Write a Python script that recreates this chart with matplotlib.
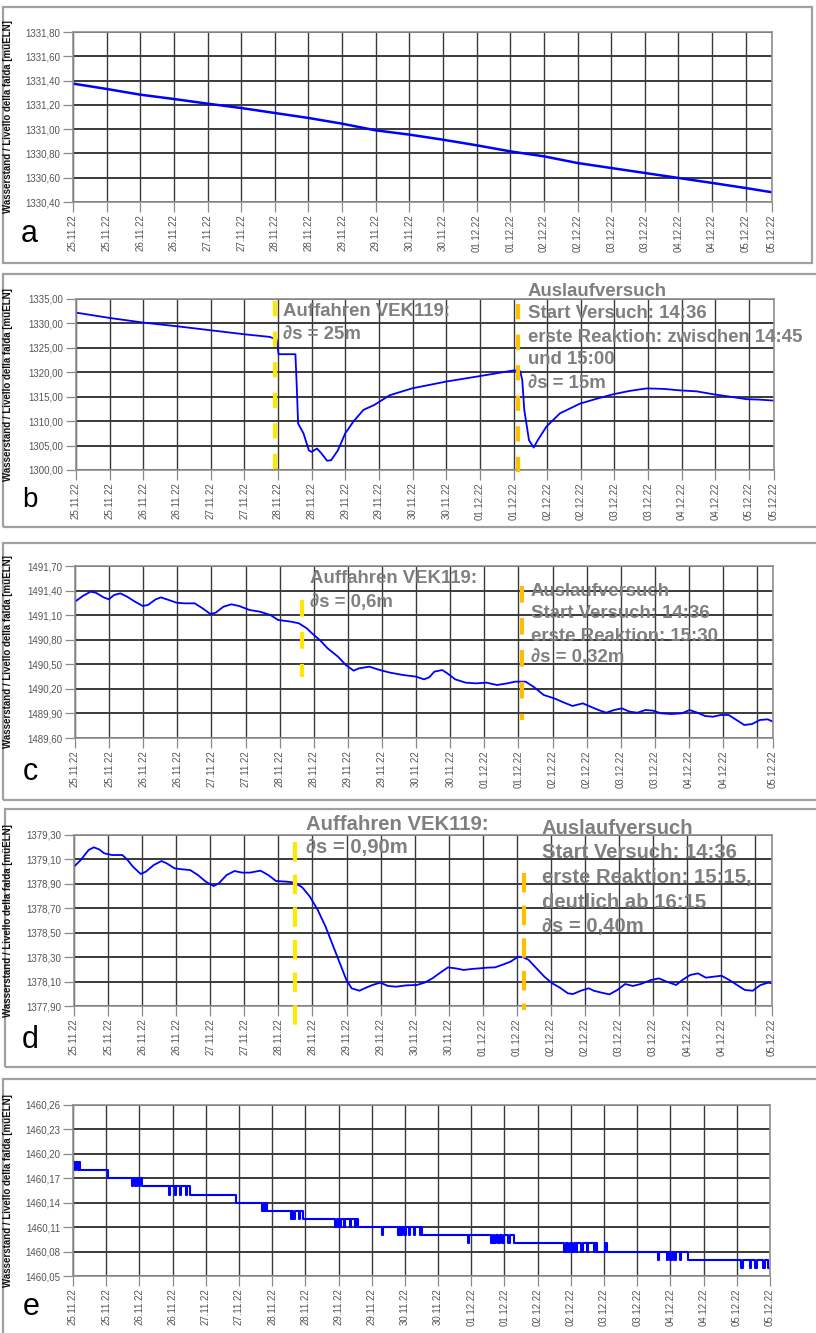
import matplotlib
matplotlib.use("Agg")
import matplotlib.pyplot as plt
from matplotlib.patches import Rectangle

plt.rcParams['font.family'] = ['Liberation Sans', 'DejaVu Sans']
plt.rcParams['lines.scale_dashes'] = False

# ---------------------------------------------------------------
# data (t = days since 25.11.22 00:00)
# ---------------------------------------------------------------
date_labels = ['25.11.22', '25.11.22', '26.11.22', '26.11.22', '27.11.22', '27.11.22',
               '28.11.22', '28.11.22', '29.11.22', '29.11.22', '30.11.22', '30.11.22',
               '01.12.22', '01.12.22', '02.12.22', '02.12.22', '03.12.22', '03.12.22',
               '04.12.22', '04.12.22', '05.12.22', '05.12.22']
ylabel_txt = 'Wasserstand / Livello della falda [müELN]'

# panel a
a_t = [0, 0.5, 1, 1.5, 2, 2.5, 3, 3.5, 4, 4.5, 5, 5.5, 6, 6.5, 7, 7.5, 8, 8.5, 9, 9.5, 10, 10.39]
a_v = [1331.375, 1331.331, 1331.284, 1331.248, 1331.210, 1331.174, 1331.133, 1331.092,
       1331.045, 1330.990, 1330.955, 1330.913, 1330.867, 1330.817, 1330.776, 1330.721,
       1330.680, 1330.639, 1330.598, 1330.557, 1330.515, 1330.480]
a_yticks = [1330.4, 1330.6, 1330.8, 1331.0, 1331.2, 1331.4, 1331.6, 1331.8]

# panel b
b_t = [0.0, 0.5, 1.0, 1.5, 2.0, 2.5, 2.88, 2.98, 3.01, 3.26, 3.28, 3.30, 3.38, 3.46, 3.50,
       3.58, 3.64, 3.73, 3.79, 3.89, 4.00, 4.12, 4.27, 4.43, 4.66, 4.99, 5.50, 5.99, 6.51,
       6.60, 6.63, 6.66, 6.73, 6.80, 6.86, 6.99, 7.19, 7.49, 7.74, 7.98, 8.23, 8.48, 8.73,
       8.97, 9.22, 9.47, 9.72, 9.96, 10.16, 10.37]
b_v = [1332.21, 1331.12, 1330.17, 1329.42, 1328.60, 1327.78, 1327.24, 1326.70, 1323.70,
       1323.70, 1317.0, 1309.5, 1307.5, 1304.0, 1303.7, 1304.4, 1303.5, 1301.9, 1302.0,
       1304.0, 1307.5, 1309.9, 1312.3, 1313.3, 1315.3, 1316.7, 1318.1, 1319.2, 1320.4,
       1320.2, 1318.4, 1312.3, 1306.1, 1304.6, 1306.1, 1308.9, 1311.6, 1313.6, 1314.6,
       1315.5, 1316.2, 1316.7, 1316.6, 1316.3, 1316.1, 1315.5, 1315.0, 1314.5, 1314.4,
       1314.2]
b_yticks = [1300, 1305, 1310, 1315, 1320, 1325, 1330, 1335]

# panel c
c_t = [0.000, 0.115, 0.229, 0.305, 0.420, 0.496, 0.573, 0.664, 0.763, 0.878, 0.992, 1.069,
       1.183, 1.260, 1.374, 1.489, 1.603, 1.756, 1.870, 1.985, 2.061, 2.176, 2.290, 2.405,
       2.557, 2.710, 2.863, 2.977, 3.168, 3.282, 3.397, 3.473, 3.588, 3.702, 3.855, 3.969,
       4.084, 4.160, 4.313, 4.466, 4.618, 4.809, 5.000, 5.115, 5.191, 5.267, 5.382, 5.458,
       5.573, 5.725, 5.878, 6.031, 6.183, 6.336, 6.450, 6.603, 6.718, 6.870, 7.023, 7.137,
       7.290, 7.443, 7.557, 7.672, 7.786, 7.901, 8.015, 8.130, 8.244, 8.359, 8.473, 8.588,
       8.740, 8.893, 9.008, 9.122, 9.237, 9.351, 9.466, 9.580, 9.695, 9.809, 9.924, 10.038,
       10.153, 10.229]
c_v = [1491.265, 1491.334, 1491.387, 1491.374, 1491.317, 1491.293, 1491.346, 1491.366,
       1491.326, 1491.265, 1491.212, 1491.224, 1491.293, 1491.317, 1491.285, 1491.252,
       1491.244, 1491.244, 1491.183, 1491.114, 1491.130, 1491.203, 1491.232, 1491.212,
       1491.163, 1491.142, 1491.102, 1491.041, 1491.020, 1491.000, 1490.939, 1490.878,
       1490.796, 1490.695, 1490.593, 1490.491, 1490.422, 1490.450, 1490.471, 1490.430,
       1490.398, 1490.369, 1490.349, 1490.316, 1490.341, 1490.410, 1490.430, 1490.389,
       1490.316, 1490.276, 1490.267, 1490.276, 1490.247, 1490.267, 1490.288, 1490.288,
       1490.227, 1490.125, 1490.084, 1490.043, 1489.991, 1490.023, 1489.982, 1489.942,
       1489.909, 1489.942, 1489.962, 1489.921, 1489.909, 1489.942, 1489.934, 1489.901,
       1489.893, 1489.901, 1489.942, 1489.909, 1489.868, 1489.860, 1489.881, 1489.881,
       1489.820, 1489.759, 1489.771, 1489.820, 1489.828, 1489.799]
c_yticks = [1489.6, 1489.9, 1490.2, 1490.5, 1490.8, 1491.1, 1491.4, 1491.7]

# panel d
d_t = [0.000, 0.099, 0.214, 0.291, 0.367, 0.443, 0.558, 0.711, 0.787, 0.864, 0.979, 1.055,
       1.170, 1.284, 1.361, 1.476, 1.590, 1.705, 1.820, 1.934, 2.049, 2.125, 2.240, 2.355,
       2.469, 2.584, 2.737, 2.852, 2.966, 3.119, 3.234, 3.349, 3.463, 3.578, 3.693, 3.807,
       3.922, 3.998, 4.075, 4.190, 4.266, 4.381, 4.495, 4.610, 4.725, 4.878, 5.031, 5.145,
       5.260, 5.375, 5.489, 5.604, 5.719, 5.833, 5.948, 6.063, 6.177, 6.292, 6.407, 6.521,
       6.598, 6.674, 6.789, 6.904, 7.018, 7.133, 7.248, 7.324, 7.439, 7.554, 7.630, 7.745,
       7.859, 7.974, 8.089, 8.203, 8.318, 8.471, 8.586, 8.700, 8.838, 8.930, 9.044, 9.159,
       9.274, 9.388, 9.503, 9.618, 9.732, 9.847, 9.962, 10.076, 10.191, 10.245]
d_v = [1379.041, 1379.095, 1379.177, 1379.199, 1379.183, 1379.150, 1379.136, 1379.136,
       1379.095, 1379.041, 1378.981, 1379.000, 1379.054, 1379.087, 1379.068, 1379.027,
       1379.019, 1379.013, 1378.972, 1378.918, 1378.882, 1378.904, 1378.972, 1379.005,
       1378.992, 1378.992, 1379.008, 1378.972, 1378.923, 1378.918, 1378.910, 1378.872,
       1378.795, 1378.686, 1378.549, 1378.386, 1378.222, 1378.113, 1378.045, 1378.025,
       1378.045, 1378.072, 1378.091, 1378.064, 1378.058, 1378.069, 1378.072, 1378.091,
       1378.126, 1378.173, 1378.216, 1378.208, 1378.195, 1378.203, 1378.208, 1378.214,
       1378.216, 1378.238, 1378.263, 1378.304, 1378.298, 1378.277, 1378.208, 1378.140,
       1378.086, 1378.050, 1378.004, 1377.998, 1378.025, 1378.045, 1378.025, 1378.009,
       1377.995, 1378.031, 1378.080, 1378.064, 1378.080, 1378.113, 1378.126, 1378.099,
       1378.072, 1378.113, 1378.154, 1378.167, 1378.132, 1378.140, 1378.148, 1378.113,
       1378.072, 1378.031, 1378.025, 1378.072, 1378.091, 1378.085]
d_yticks = [1377.9, 1378.1, 1378.3, 1378.5, 1378.7, 1378.9, 1379.1, 1379.3]

# panel e (logger resolution 1 cm, flickering between two levels)
e_t = [0.00, 0.03, 0.05, 0.07, 0.09, 0.11, 0.52,
       0.89, 0.91, 0.94, 0.96, 0.99, 1.01, 1.04,
       1.44, 1.46, 1.53, 1.55, 1.61, 1.63, 1.70, 1.72, 1.77,
       2.46,
       2.85, 2.87, 2.89, 2.91, 2.93,
       3.28, 3.30, 3.32, 3.34, 3.40, 3.42, 3.47,
       3.95, 3.97, 4.00, 4.03, 4.08, 4.10, 4.17, 4.19, 4.25, 4.27, 4.30,
       4.65, 4.67,
       4.89, 4.91, 4.93, 4.96, 4.99, 5.02, 5.06, 5.08, 5.13, 5.15, 5.22, 5.24, 5.26,
       5.95, 5.97,
       6.30, 6.32, 6.34, 6.37, 6.40, 6.43, 6.47, 6.50, 6.56, 6.58, 6.64,
       7.40, 7.42, 7.45, 7.48, 7.52, 7.54, 7.58, 7.60, 7.66, 7.68, 7.74, 7.76, 7.85, 7.87, 7.90,
       8.02, 8.04,
       8.81, 8.83, 8.95, 8.97, 9.00, 9.03, 9.06, 9.08, 9.14, 9.16, 9.27,
       10.07, 10.09, 10.20, 10.22, 10.27, 10.30, 10.40, 10.42, 10.47, 10.50]
e_v = [1460.19, 1460.18, 1460.19, 1460.18, 1460.19, 1460.18, 1460.17,
       1460.16, 1460.17, 1460.16, 1460.17, 1460.16, 1460.17, 1460.16,
       1460.15, 1460.16, 1460.15, 1460.16, 1460.15, 1460.16, 1460.15, 1460.16, 1460.15,
       1460.14,
       1460.13, 1460.14, 1460.13, 1460.14, 1460.13,
       1460.12, 1460.13, 1460.12, 1460.13, 1460.12, 1460.13, 1460.12,
       1460.11, 1460.12, 1460.11, 1460.12, 1460.11, 1460.12, 1460.11, 1460.12, 1460.11, 1460.12, 1460.11,
       1460.10, 1460.11,
       1460.10, 1460.11, 1460.10, 1460.11, 1460.10, 1460.11, 1460.10, 1460.11, 1460.10, 1460.11, 1460.10, 1460.11, 1460.10,
       1460.09, 1460.10,
       1460.09, 1460.10, 1460.09, 1460.10, 1460.09, 1460.10, 1460.09, 1460.10, 1460.09, 1460.10, 1460.09,
       1460.08, 1460.09, 1460.08, 1460.09, 1460.08, 1460.09, 1460.08, 1460.09, 1460.08, 1460.09, 1460.08, 1460.09, 1460.08, 1460.09, 1460.08,
       1460.09, 1460.08,
       1460.07, 1460.08, 1460.07, 1460.08, 1460.07, 1460.08, 1460.07, 1460.08, 1460.07, 1460.08, 1460.07,
       1460.06, 1460.07, 1460.06, 1460.07, 1460.06, 1460.07, 1460.06, 1460.07, 1460.06, 1460.06]
e_yticks = [1460.05, 1460.08, 1460.11, 1460.14, 1460.17, 1460.20, 1460.23, 1460.26]

# event lines: (t, y_from, y_to)
b_yellow = (2.95, 1334.5, 1300.0)
b_orange = (6.56, 1334.0, 1299.3)
c_yellow = (3.32, 1491.28, 1490.35)
c_orange = (6.55, 1491.46, 1489.82)
d_yellow = (3.25, 1379.245, 1377.73)
d_orange = (6.60, 1378.986, 1377.867)

b_txt1 = ['Auffahren VEK119:', '∂s = 25m']
b_txt2 = ['Auslaufversuch', 'Start Versuch: 14:36', 'erste Reaktion: zwischen 14:45',
          'und 15:00', '∂s = 15m']
c_txt1 = ['Auffahren VEK119:', '∂s = 0,6m']
c_txt2 = ['Auslaufversuch', 'Start Versuch: 14:36', 'erste Reaktion: 15:30', '∂s = 0,32m']
d_txt1 = ['Auffahren VEK119:', '∂s = 0,90m']
d_txt2 = ['Auslaufversuch', 'Start Versuch: 14:36', 'erste Reaktion: 15:15,',
          'deutlich ab 16:15', '∂s = 0,40m']

# ---------------------------------------------------------------
W, H = 816, 1333
BLUE = '#0000ff'
YELLOW = '#ffe800'
ORANGE = '#ffbf00'
TXT = '#7f7f7f'

fig = plt.figure(figsize=(W / 100, H / 100), dpi=100)


def fx(x):
    return x / W


def fy(y):
    return 1 - y / H


def make_panel(box, area, xmax, yticks, yfmt, letter, letter_xy, letter_size=22, skip_label=None):
    x0, y0, x1, y1 = box
    fig.patches.append(Rectangle((fx(x0), fy(y1)), (x1 - x0) / W, (y1 - y0) / H,
                                 transform=fig.transFigure, fill=False,
                                 ec='#a0a0a0', lw=1.6, zorder=0))
    ax0, ay0, ax1, ay1 = area
    ax = fig.add_axes([fx(ax0), fy(ay1), (ax1 - ax0) / W, (ay1 - ay0) / H])
    ax.set_xlim(0, xmax)
    ax.set_ylim(yticks[0], yticks[-1])
    ax.set_yticks(yticks)
    ax.set_yticklabels([yfmt.format(v).replace('.', ',') for v in yticks])
    if xmax > 10.45:
        xt = [i * 0.5 for i in range(22)]
    else:
        xt = [i * 0.5 for i in range(21)] + [xmax]
    labels = list(date_labels)
    if skip_label is not None:
        labels[skip_label] = ''
    ax.set_xticks(xt)
    ax.set_xticklabels(labels, rotation=90, va='top', ha='center')
    ax.grid(True, axis='y', color='#3a3a3a', lw=1.4)
    ax.grid(True, axis='x', color='#3a3a3a', lw=1.0)
    ax.set_axisbelow(True)
    for s in ax.spines.values():
        s.set_color('#909090')
        s.set_linewidth(1.2)
    ax.tick_params(axis='both', length=7, width=0.9, color='#8a8a8a',
                   labelsize=7, labelcolor='#555555', pad=2)
    fig.text(fx(8), fy((ay0 + ay1) / 2), ylabel_txt, rotation=90, ha='center', va='center',
             fontsize=7, fontweight='bold', color='#111111')
    fig.text(fx(letter_xy[0]), fy(letter_xy[1]), letter, ha='center', va='center',
             fontsize=letter_size, color='black')
    return ax


def event(ax, ev, color, on, off):
    t, v0, v1 = ev
    ax.plot([t, t], [v0, v1], color=color, lw=3, dashes=(on, off),
            dash_capstyle='butt', clip_on=False, zorder=4)


def note(lines, x, y_first, step, size):
    for i, s in enumerate(lines):
        fig.text(fx(x), fy(y_first + i * step), s, ha='left', va='center',
                 fontsize=size, fontweight='bold', color=TXT, zorder=6)


# a
ax = make_panel((3, 7, 812, 263), (73, 32, 772, 202), 10.39, a_yticks, '{:.2f}', 'a', (29, 234))
ax.plot(a_t, a_v, color=BLUE, lw=1.8)

# b
ax = make_panel((3, 274, 818, 527), (76, 299, 774, 470), 10.37, b_yticks, '{:.2f}', 'b', (30, 500), 20)
ax.plot(b_t, b_v, color=BLUE, lw=1.3)
event(ax, b_yellow, YELLOW, 11, 11)
event(ax, b_orange, ORANGE, 11, 11)
note(b_txt1, 283, 312, 22, 13.4)
note(b_txt2, 528, 291, 23, 13.4)

# c
ax = make_panel((3, 543, 818, 800), (75, 566, 773, 738), 10.23, c_yticks, '{:.2f}', 'c', (30, 772), 22, 20)
ax.plot(c_t, c_v, color=BLUE, lw=1.3)
event(ax, c_yellow, YELLOW, 12, 11)
event(ax, c_orange, ORANGE, 12, 11)
note(c_txt1, 310, 579, 23, 13.4)
note(c_txt2, 531, 592, 22, 13.4)

# d
ax = make_panel((5, 809, 818, 1067), (74, 835, 772, 1006), 10.245, d_yticks, '{:.2f}', 'd', (30, 1040), 22, 20)
ax.plot(d_t, d_v, color=BLUE, lw=1.3)
event(ax, d_yellow, YELLOW, 14, 9.5)
event(ax, d_orange, ORANGE, 14, 9.5)
note(d_txt1, 306, 825, 22, 14.6)
note(d_txt2, 542, 828, 24.7, 14.6)

# e
ax = make_panel((3, 1079, 818, 1340), (73, 1105, 770, 1276), 10.5, e_yticks, '{:.2f}', 'e', (31, 1307))
ax.plot(e_t, e_v, color=BLUE, lw=1.5, drawstyle='steps-post')

fig.savefig('out.png', dpi=100)
